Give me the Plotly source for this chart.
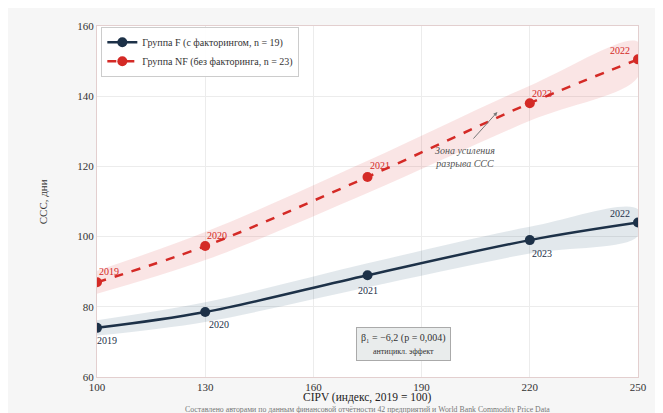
import plotly.graph_objects as go

cipv = [100, 130, 175, 220, 250]
years = ["2019", "2020", "2021", "2023", "2022"]
ccc_f = [74, 78.5, 89, 99, 104]
ccc_nf = [87, 97.3, 117, 138, 150.5]
band_f = [2.2, 2.8, 3.4, 3.8, 3.8]
band_nf = [3.3, 4.0, 4.6, 5.0, 5.0]

NAVY = "#1d3148"
RED = "#d42a26"
FONT = "Liberation Serif, Times New Roman, serif"

fig = go.Figure()

fig.add_trace(go.Scatter(
    x=cipv + cipv[::-1],
    y=[v + b for v, b in zip(ccc_nf, band_nf)] + [v - b for v, b in zip(ccc_nf, band_nf)][::-1],
    fill="toself", fillcolor="rgba(214,42,38,0.12)", line=dict(width=0, shape="spline"),
    mode="lines", showlegend=False, hoverinfo="skip"))
fig.add_trace(go.Scatter(
    x=cipv + cipv[::-1],
    y=[v + b for v, b in zip(ccc_f, band_f)] + [v - b for v, b in zip(ccc_f, band_f)][::-1],
    fill="toself", fillcolor="rgba(60,100,125,0.15)", line=dict(width=0, shape="spline"),
    mode="lines", showlegend=False, hoverinfo="skip"))

fig.add_trace(go.Scatter(
    x=cipv, y=ccc_f, mode="lines+markers", name="Группа F (с факторингом, n = 19)",
    line=dict(color=NAVY, width=2.5, shape="spline"), marker=dict(size=10, color=NAVY)))
fig.add_trace(go.Scatter(
    x=cipv, y=ccc_nf, mode="lines+markers", name="Группа NF (без факторинга, n = 23)",
    line=dict(color=RED, width=2.5, dash="dash", shape="spline"), marker=dict(size=10, color=RED)))

annotations = []
nf_off = [(12, 11), (12, 11), (12, 11), (12, 10), (-18, 9)]
for x, y, t, (dx, dy) in zip(cipv, ccc_nf, years, nf_off):
    annotations.append(dict(x=x, y=y, text=t, showarrow=False, xshift=dx, yshift=dy,
                            font=dict(color=RED, size=10, family=FONT)))
f_off = [(10, -13), (14, -12), (0, -15), (12, -13), (-18, 9)]
for x, y, t, (dx, dy) in zip(cipv, ccc_f, years, f_off):
    annotations.append(dict(x=x, y=y, text=t, showarrow=False, xshift=dx, yshift=dy,
                            font=dict(color=NAVY, size=10, family=FONT)))

annotations.append(dict(x=211, y=135.5, ax=204, ay=127.5, axref="x", ayref="y", xref="x", yref="y",
                        showarrow=True, arrowhead=2, arrowsize=0.8, arrowwidth=1, arrowcolor="#777777",
                        text=""))
annotations.append(dict(x=202, y=122.8, xref="x", yref="y", showarrow=False,
                        text="<i>Зона усиления<br>разрыва ССС</i>",
                        font=dict(color="#555555", size=10, family=FONT), align="center"))
annotations.append(dict(x=185, y=69.5, xref="x", yref="y", showarrow=False,
                        text="β₁ = −6,2 (p = 0,004)<br><span style='font-size:8px'>антицикл. эффект</span>",
                        font=dict(color="#333333", size=10, family=FONT), align="center",
                        bgcolor="#e9ecec", bordercolor="#aaaaaa", borderwidth=1, borderpad=4))
annotations.append(dict(x=0.5, y=-0.035, xref="paper", yref="paper", yanchor="top", showarrow=False,
                        text="CIPV (индекс, 2019 = 100)", font=dict(color="#222222", size=11.5, family=FONT)))
annotations.append(dict(x=0.5, y=-0.073, xref="paper", yref="paper", yanchor="top", showarrow=False,
                        text="Составлено авторами по данным финансовой отчётности 42 предприятий и World Bank Commodity Price Data",
                        font=dict(color="#777777", size=7.8, family=FONT)))
annotations.append(dict(x=-0.115, y=0.5, xref="paper", yref="paper", showarrow=False, textangle=-90,
                        text="ССС, дни", font=dict(color="#333333", size=11, family=FONT)))

fig.update_layout(
    width=655, height=405,
    margin=dict(l=89, r=25, t=12, b=36),
    paper_bgcolor="#f6f6f6", plot_bgcolor="#ffffff",
    font=dict(family=FONT, color="#333333", size=11),
    showlegend=True,
    legend=dict(x=0.008, y=0.998, xanchor="left", yanchor="top", bgcolor="rgba(255,255,255,0.95)",
                bordercolor="#cccccc", borderwidth=1, font=dict(size=10, family=FONT, color="#333333"),
                tracegroupgap=4),
    annotations=annotations,
    xaxis=dict(range=[100, 250], tickvals=[100, 130, 160, 190, 220, 250], showgrid=True,
               gridcolor="#ececec", zeroline=False, showline=True, linecolor="#e3cfcf", mirror=True,
               ticks="", tickfont=dict(size=11, color="#333333")),
    yaxis=dict(range=[60, 160], tickvals=[60, 80, 100, 120, 140, 160], showgrid=True,
               gridcolor="#ececec", zeroline=False, showline=True, linecolor="#e3cfcf", mirror=True,
               ticks="", tickfont=dict(size=11, color="#333333")),
)

fig.write_html("out.html")
